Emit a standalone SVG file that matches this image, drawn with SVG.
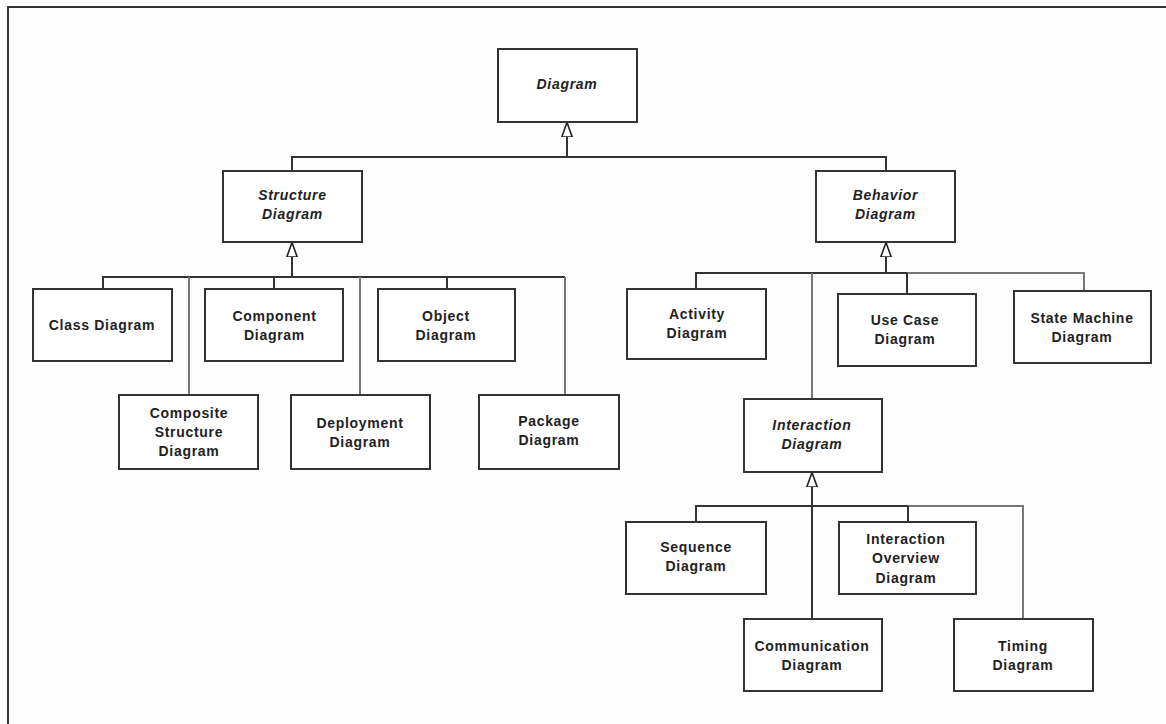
<svg xmlns="http://www.w3.org/2000/svg" width="1166" height="724" viewBox="0 0 1166 724">
<defs>
<style>
.box{fill:#fff;stroke:#333;stroke-width:2}
.t{font-family:"Liberation Sans",Arial,sans-serif;font-size:14px;font-weight:bold;fill:#222;text-anchor:middle;letter-spacing:0.7px}
.i{font-style:italic}
.c{fill:none;stroke:#333;stroke-width:2}
.g{fill:none;stroke:#777;stroke-width:2}
.frame{fill:none;stroke:#333;stroke-width:2}
</style>
<marker id="gen" viewBox="0 0 15 12" refX="15" refY="6" markerWidth="15" markerHeight="12" markerUnits="userSpaceOnUse" orient="auto">
<path d="M0,0.8 L14.5,6 L0,11.2 Z" fill="#fff" stroke="#222" stroke-width="1.6"/>
</marker>
</defs>
<rect width="1166" height="724" fill="#fdfdfd"/>
<path class="frame" d="M8,724 L8,7 L1166,7"/>
<g id="connectors">
<path class="c" d="M292,171 L292,157 L886,157 L886,171"/>
<path class="c" d="M567,157 L567,122" marker-end="url(#gen)"/>
<path class="c" d="M103,289 L103,277 L565,277"/>
<path class="c" d="M274,277 L274,289"/>
<path class="c" d="M447,277 L447,289"/>
<path class="g" d="M565,277 L565,395"/>
<path class="g" d="M189,277 L189,395"/>
<path class="g" d="M360,277 L360,395"/>
<path class="c" d="M292,277 L292,242" stroke-width="2.5" marker-end="url(#gen)"/>
<path class="c" d="M696,289 L696,273 L907,273"/>
<path class="g" d="M907,273 L1084,273 L1084,291"/>
<path class="c" d="M907,273 L907,294"/>
<path class="g" d="M812,273 L812,399"/>
<path class="c" d="M886,273 L886,242" marker-end="url(#gen)"/>
<path class="c" d="M696,522 L696,506 L908,506"/>
<path class="g" d="M908,506 L1023,506 L1023,619"/>
<path class="c" d="M908,506 L908,522"/>
<path class="c" d="M812,619 L812,472" marker-end="url(#gen)"/>
</g>
<g id="n-diagram"><rect class="box" x="498" y="49" width="139" height="73"/><text class="t i" x="567" y="89">Diagram</text></g>
<g id="n-structure"><rect class="box" x="223" y="171" width="139" height="71"/><text class="t i" x="292.5" y="200">Structure</text><text class="t i" x="292.5" y="219">Diagram</text></g>
<g id="n-behavior"><rect class="box" x="816" y="171" width="139" height="71"/><text class="t i" x="885.5" y="200">Behavior</text><text class="t i" x="885.5" y="219">Diagram</text></g>
<g id="n-class"><rect class="box" x="33" y="289" width="139" height="72"/><text class="t" x="102" y="330">Class Diagram</text></g>
<g id="n-component"><rect class="box" x="205" y="289" width="138" height="72"/><text class="t" x="274.5" y="321">Component</text><text class="t" x="274.5" y="340">Diagram</text></g>
<g id="n-object"><rect class="box" x="378" y="289" width="137" height="72"/><text class="t" x="446" y="321">Object</text><text class="t" x="446" y="340">Diagram</text></g>
<g id="n-composite"><rect class="box" x="119" y="395" width="139" height="74"/><text class="t" x="189" y="418">Composite</text><text class="t" x="189" y="437">Structure</text><text class="t" x="189" y="456">Diagram</text></g>
<g id="n-deployment"><rect class="box" x="291" y="395" width="139" height="74"/><text class="t" x="360" y="428">Deployment</text><text class="t" x="360" y="447">Diagram</text></g>
<g id="n-package"><rect class="box" x="479" y="395" width="140" height="74"/><text class="t" x="549" y="426">Package</text><text class="t" x="549" y="445">Diagram</text></g>
<g id="n-activity"><rect class="box" x="627" y="289" width="139" height="70"/><text class="t" x="697" y="319">Activity</text><text class="t" x="697" y="338">Diagram</text></g>
<g id="n-usecase"><rect class="box" x="838" y="294" width="138" height="72"/><text class="t" x="905" y="325">Use Case</text><text class="t" x="905" y="344">Diagram</text></g>
<g id="n-statemachine"><rect class="box" x="1014" y="291" width="137" height="72"/><text class="t" x="1082" y="323">State Machine</text><text class="t" x="1082" y="342">Diagram</text></g>
<g id="n-interaction"><rect class="box" x="744" y="399" width="138" height="73"/><text class="t i" x="812" y="430">Interaction</text><text class="t i" x="812" y="449">Diagram</text></g>
<g id="n-sequence"><rect class="box" x="626" y="522" width="140" height="72"/><text class="t" x="696" y="552">Sequence</text><text class="t" x="696" y="571">Diagram</text></g>
<g id="n-overview"><rect class="box" x="839" y="522" width="137" height="72"/><text class="t" x="906" y="544">Interaction</text><text class="t" x="906" y="563">Overview</text><text class="t" x="906" y="583">Diagram</text></g>
<g id="n-communication"><rect class="box" x="744" y="619" width="138" height="72"/><text class="t" x="812" y="651">Communication</text><text class="t" x="812" y="670">Diagram</text></g>
<g id="n-timing"><rect class="box" x="954" y="619" width="139" height="72"/><text class="t" x="1023" y="651">Timing</text><text class="t" x="1023" y="670">Diagram</text></g>
</svg>
